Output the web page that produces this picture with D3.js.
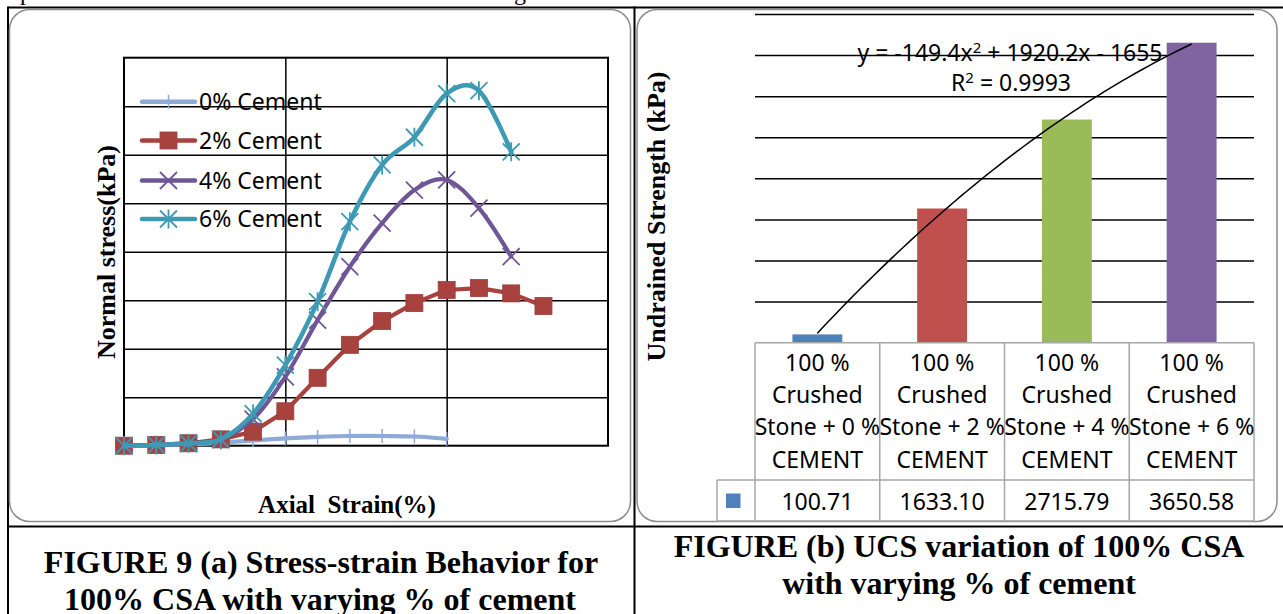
<!DOCTYPE html>
<html>
<head>
<meta charset="utf-8">
<script src="https://cdn.jsdelivr.net/npm/d3@7/dist/d3.min.js"></script>
<style>
  body { margin: 0; background: #fff; }
  .serif { font-family: "Liberation Serif", "Times New Roman", serif; font-weight: bold; }
  .sans { font-family: "Noto Sans", "Open Sans", sans-serif; }
</style>
</head>
<body>
<div id="chart"></div>
<script>
// ---- data (a) stress-strain ----
var strain = [0, 1, 2, 3, 4, 5, 6, 7, 8, 9, 10, 11, 12, 13];
var stress0 = [0, 1, 3, 6, 11, 15, 18, 20, 20, 19, 14];
var stress2 = [0, 1.5, 5, 13, 29, 71, 140, 208, 257, 294, 321, 325, 314, 288];
var stress4 = [0, 1.5, 5, 13, 55, 142, 259, 369, 459, 527, 548, 490, 390];
var stress6 = [0, 1.5, 5, 13, 66, 166, 297, 462, 579, 636, 726, 732, 606];
var seriesNames = ["0% Cement", "2% Cement", "4% Cement", "6% Cement"];
var seriesColors = ["#8EAAD8", "#A8423F", "#6F5697", "#3E9AB4"];

// ---- data (b) UCS ----
var categories = ["0", "2", "4", "6"];
var categoryLines = [
  ["100 %", "Crushed", "Stone + 0 %", "CEMENT"],
  ["100 %", "Crushed", "Stone + 2 %", "CEMENT"],
  ["100 %", "Crushed", "Stone + 4 %", "CEMENT"],
  ["100 %", "Crushed", "Stone + 6 %", "CEMENT"]
];
var ucs = [100.71, 1633.10, 2715.79, 3650.58];
var barColors = ["#4F81BD", "#C0504D", "#9BBB59", "#8064A2"];
var trendCoef = [-149.4, 1920.2, -1655];   // a x^2 + b x + c

var W = 1283, H = 614;
var svg = d3.select("#chart").append("svg")
    .attr("width", W)
    .attr("height", H);

svg.append("rect").attr("width", W).attr("height", H).attr("fill", "#fff");

// cut-off text line above the table
svg.append("text").attr("class", "serif").attr("x", 20).attr("y", 0)
    .style("font-weight", "normal").style("font-size", "24px").text("p");
svg.append("text").attr("class", "serif").attr("x", 514).attr("y", 0)
    .style("font-weight", "normal").style("font-size", "24px").text("g");

// page table lines
var tbl = svg.append("g").attr("stroke", "#000").attr("stroke-width", 2);
tbl.append("line").attr("x1", 8).attr("x2", W).attr("y1", 7.5).attr("y2", 7.5);
tbl.append("line").attr("x1", 8).attr("x2", W).attr("y1", 526.5).attr("y2", 526.5);
tbl.append("line").attr("x1", 8).attr("x2", 8).attr("y1", 6.5).attr("y2", H);
tbl.append("line").attr("x1", 634.5).attr("x2", 634.5).attr("y1", 6.5).attr("y2", H);

// rounded chart frames
svg.append("rect").attr("x", 9.5).attr("y", 9.5).attr("width", 621).attr("height", 512)
    .attr("rx", 20).attr("fill", "none").attr("stroke", "#8c8c8c").attr("stroke-width", 1.5);
svg.append("rect").attr("x", 637).attr("y", 9.5).attr("width", 640).attr("height", 512)
    .attr("rx", 20).attr("fill", "none").attr("stroke", "#8c8c8c").attr("stroke-width", 1.5);

// ================= chart (a) =================
var a = { left: 124, right: 608, top: 57.7, bottom: 445.7 };
var x = d3.scaleLinear().domain([0, 15]).range([a.left, a.right]);
var y = d3.scaleLinear().domain([0, 800]).range([a.bottom, a.top]);

var ga = svg.append("g");
ga.append("g")
    .attr("transform", "translate(0," + a.bottom + ")")
    .call(d3.axisBottom(x).tickValues([5, 10]).tickSize(a.bottom - a.top).tickFormat(""))
    .call(function(g) {
        g.select(".domain").remove();
        g.selectAll("line").attr("y2", -(a.bottom - a.top)).attr("stroke", "#000").attr("stroke-width", 1.5);
    });
ga.append("g")
    .attr("transform", "translate(" + a.left + ",0)")
    .call(d3.axisLeft(y).tickValues(d3.range(100, 800, 100)).tickSize(-(a.right - a.left)).tickFormat(""))
    .call(function(g) {
        g.select(".domain").remove();
        g.selectAll("line").attr("stroke", "#000").attr("stroke-width", 1.5);
    });
ga.append("rect").attr("x", a.left).attr("y", a.top)
    .attr("width", a.right - a.left).attr("height", a.bottom - a.top)
    .attr("fill", "none").attr("stroke", "#000").attr("stroke-width", 2);

// markers
function drawMarker(g, kind, cx, cy, color) {
    if (kind === 0) {
        g.append("line").attr("x1", cx).attr("x2", cx).attr("y1", cy - 7).attr("y2", cy + 7)
            .attr("stroke", color).attr("stroke-width", 1.5);
    } else if (kind === 1) {
        g.append("rect").attr("x", cx - 8.5).attr("y", cy - 8.5).attr("width", 17).attr("height", 17)
            .attr("fill", color).attr("stroke", "#9c3d3a").attr("stroke-width", 0.8);
    } else {
        var s = 8.5;
        var p = "M" + (cx - s) + "," + (cy - s) + "L" + (cx + s) + "," + (cy + s) +
                "M" + (cx - s) + "," + (cy + s) + "L" + (cx + s) + "," + (cy - s);
        if (kind === 3) p += "M" + cx + "," + (cy - s - 1) + "L" + cx + "," + (cy + s + 1);
        g.append("path").attr("d", p).attr("stroke", color).attr("stroke-width", 1.8).attr("fill", "none");
    }
}

var allSeries = [stress0, stress2, stress4, stress6];
allSeries.forEach(function(vals, i) {
    var pts = vals.map(function(v, k) { return [strain[k], v]; });
    var line = d3.line()
        .x(function(d) { return x(d[0]); })
        .y(function(d) { return y(d[1]); })
        .curve(i === 1 ? d3.curveLinear : d3.curveCardinal.tension(0));
    var g = ga.append("g");
    g.append("path").datum(pts).attr("d", line)
        .attr("fill", "none").attr("stroke", seriesColors[i])
        .attr("stroke-width", i === 3 ? 4.6 : 4.2)
        .attr("stroke-linejoin", "round").attr("stroke-linecap", "round");
    pts.forEach(function(d) { drawMarker(g, i, x(d[0]), y(d[1]), seriesColors[i]); });
});

// legend
var legY = [101.7, 140.5, 180.5, 219];
seriesNames.forEach(function(name, i) {
    var g = ga.append("g");
    g.append("line").attr("x1", 142).attr("x2", 195).attr("y1", legY[i]).attr("y2", legY[i])
        .attr("stroke", seriesColors[i]).attr("stroke-width", 4.5).attr("stroke-linecap", "round");
    drawMarker(g, i, 168.5, legY[i], seriesColors[i]);
    g.append("text").attr("class", "sans").attr("x", 199).attr("y", legY[i] + 8.3)
        .style("font-size", "23px").attr("fill", "#000").text(name);
});

// axis titles
ga.append("text").attr("class", "serif")
    .attr("transform", "translate(115,252) rotate(-90)")
    .attr("text-anchor", "middle").style("font-size", "26px")
    .text("Normal stress(kPa)");
ga.append("text").attr("class", "serif")
    .attr("x", 347).attr("y", 513).attr("text-anchor", "middle").style("font-size", "25px")
    .attr("xml:space", "preserve")
    .text("Axial  Strain(%)");

// caption (a)
ga.append("text").attr("class", "serif").attr("x", 321).attr("y", 573)
    .attr("text-anchor", "middle").style("font-size", "32px")
    .text("FIGURE 9 (a) Stress-strain Behavior for");
ga.append("text").attr("class", "serif").attr("x", 320).attr("y", 610)
    .attr("text-anchor", "middle").style("font-size", "32px")
    .text("100% CSA with varying % of cement");

// ================= chart (b) =================
var b = { left: 755, right: 1254, top: 14, bottom: 342.7 };
var xb = d3.scaleBand().domain(categories).range([b.left, b.right])
    .paddingInner(0.6).paddingOuter(0.3);
var yb = d3.scaleLinear().domain([0, 4000]).range([b.bottom, b.top]);

var gb = svg.append("g");
gb.append("g")
    .attr("transform", "translate(" + b.left + ",0)")
    .call(d3.axisLeft(yb).tickValues(d3.range(500, 4001, 500)).tickSize(-(b.right - b.left)).tickFormat(""))
    .call(function(g) {
        g.select(".domain").remove();
        g.selectAll("line").attr("stroke", "#000").attr("stroke-width", 1.5);
    });

gb.selectAll(".bar").data(ucs).enter().append("rect")
    .attr("class", "bar")
    .attr("x", function(d, i) { return xb(categories[i]); })
    .attr("width", xb.bandwidth())
    .attr("y", function(d) { return yb(d); })
    .attr("height", function(d) { return yb(0) - yb(d); })
    .attr("fill", function(d, i) { return barColors[i]; });

// polynomial trendline over category index 1..4
var xt = d3.scaleLinear().domain([1, categories.length])
    .range([xb(categories[0]) + xb.bandwidth() / 2, xb(categories[categories.length - 1]) + xb.bandwidth() / 2]);
var tpts = d3.range(1, 4.0001, 0.05).map(function(t) {
    return [t, trendCoef[0] * t * t + trendCoef[1] * t + trendCoef[2]];
});
gb.append("path").datum(tpts)
    .attr("d", d3.line().x(function(d) { return xt(d[0]); }).y(function(d) { return yb(d[1]); }))
    .attr("fill", "none").attr("stroke", "#000").attr("stroke-width", 1.5);

var eq = gb.append("text").attr("class", "sans").attr("x", 1010).attr("y", 61)
    .attr("text-anchor", "middle").style("font-size", "23px");
eq.append("tspan").text("y = " + trendCoef[0] + "x");
eq.append("tspan").attr("dy", -8).style("font-size", "15px").text("2");
eq.append("tspan").attr("dy", 8).text(" + " + trendCoef[1] + "x - " + Math.abs(trendCoef[2]));
var r2 = gb.append("text").attr("class", "sans").attr("x", 1011).attr("y", 91)
    .attr("text-anchor", "middle").style("font-size", "23px");
r2.append("tspan").text("R");
r2.append("tspan").attr("dy", -8).style("font-size", "15px").text("2");
r2.append("tspan").attr("dy", 8).text(" = 0.9993");

// data table
var tb = gb.append("g").attr("stroke", "#a6a6a6").attr("stroke-width", 1.5);
var rowTop = b.bottom, rowMid = 480, rowBot = 521;
var edges = categories.map(function(c) { return xb(c) - xb.step() * xb.paddingInner() / 2; });
edges.push(b.right);
tb.append("line").attr("x1", b.left).attr("x2", b.right).attr("y1", rowTop).attr("y2", rowTop);
tb.append("line").attr("x1", 717).attr("x2", b.right).attr("y1", rowMid).attr("y2", rowMid);
tb.append("line").attr("x1", 717).attr("x2", b.right).attr("y1", rowBot).attr("y2", rowBot);
tb.append("line").attr("x1", 717).attr("x2", 717).attr("y1", rowMid).attr("y2", rowBot);
edges.forEach(function(e) {
    tb.append("line").attr("x1", e).attr("x2", e).attr("y1", rowTop).attr("y2", rowBot);
});

var lineY = [370.5, 402.5, 435, 467.5];
categoryLines.forEach(function(lines, i) {
    var cx = xb(categories[i]) + xb.bandwidth() / 2;
    lines.forEach(function(t, j) {
        gb.append("text").attr("class", "sans").attr("x", cx).attr("y", lineY[j])
            .attr("text-anchor", "middle").style("font-size", "23px").text(t);
    });
    gb.append("text").attr("class", "sans").attr("x", cx).attr("y", 510)
        .attr("text-anchor", "middle").style("font-size", "23px").text(ucs[i].toFixed(2));
});
gb.append("rect").attr("x", 726).attr("y", 493.5).attr("width", 14.5).attr("height", 14.5)
    .attr("fill", barColors[0]);

gb.append("text").attr("class", "serif")
    .attr("transform", "translate(665,216.5) rotate(-90)")
    .attr("text-anchor", "middle").style("font-size", "26px")
    .text("Undrained Strength (kPa)");

// caption (b)
gb.append("text").attr("class", "serif").attr("x", 959).attr("y", 557)
    .attr("text-anchor", "middle").style("font-size", "32px")
    .text("FIGURE (b) UCS variation of 100% CSA");
gb.append("text").attr("class", "serif").attr("x", 959).attr("y", 594)
    .attr("text-anchor", "middle").style("font-size", "32px")
    .text("with varying % of cement");
</script>
</body>
</html>
